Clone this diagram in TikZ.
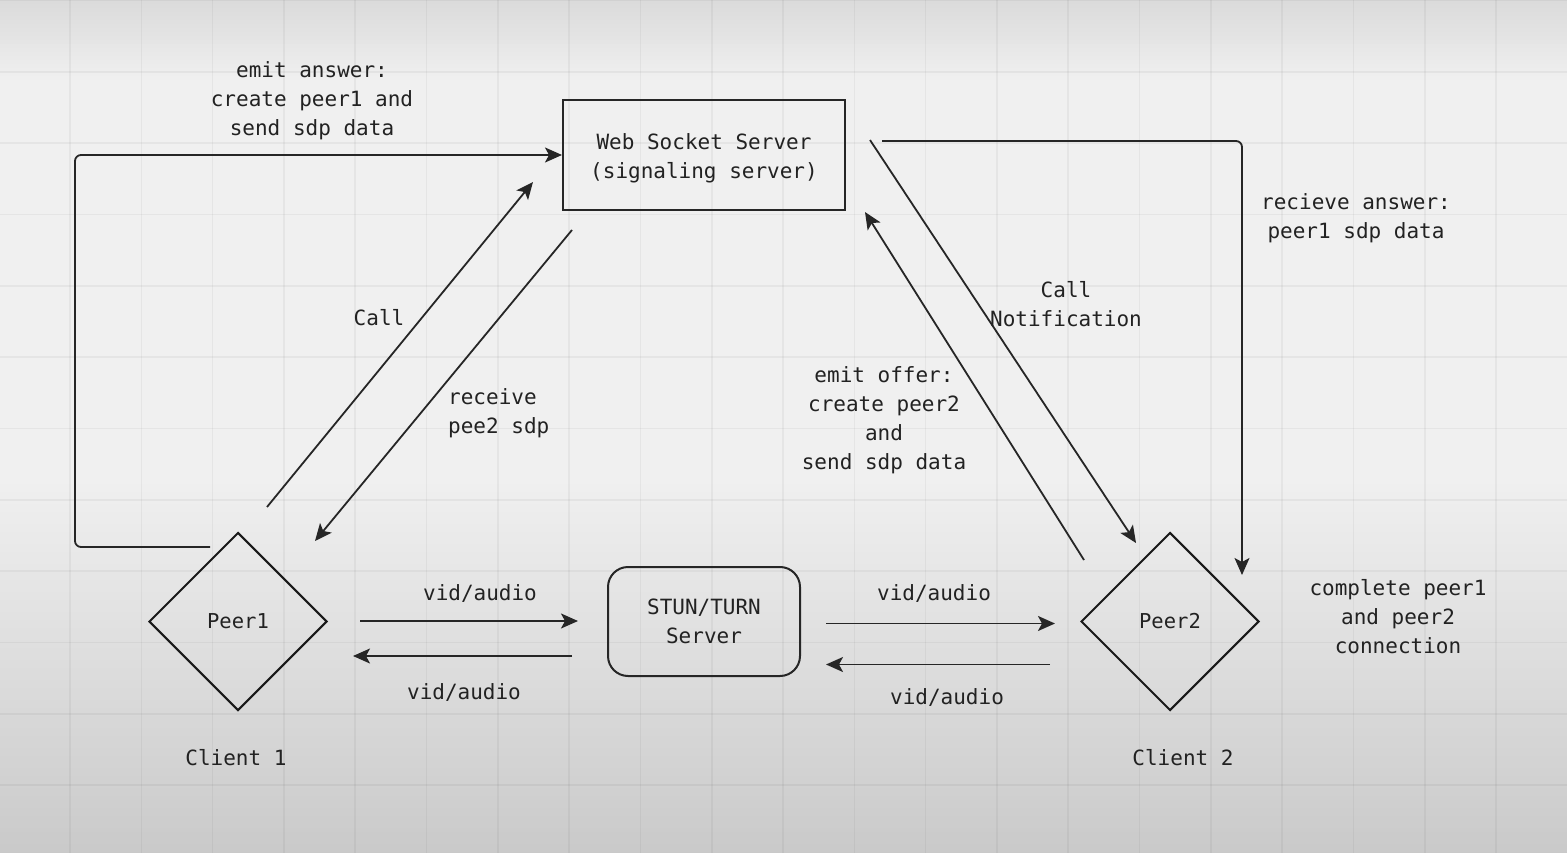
\documentclass[tikz,border=0pt]{standalone}
\usepackage{fontspec}
\setmainfont{DejaVu Sans Mono}
\setmonofont{DejaVu Sans Mono}
\usetikzlibrary{arrows.meta,shapes.geometric}
\definecolor{linec}{HTML}{262626}
\definecolor{txt}{HTML}{222222}
\tikzset{
  conn/.style={draw=linec, line width=1.8pt},
  arr/.style={conn, -{Stealth[length=17pt,width=15pt,inset=4pt]}},
  lbl/.style={font=\fontsize{21}{29}\selectfont, text=txt, align=center, inner sep=0pt},
  boxnode/.style={draw=linec, line width=2pt, font=\fontsize{21}{29}\selectfont, text=txt, align=center, inner sep=0pt},
  peer/.style={diamond, draw=black!90, line width=2pt, minimum width=178pt, minimum height=178pt, inner sep=0pt, aspect=1, font=\fontsize{20.5}{29}\selectfont, text=txt},
  gridline/.style={black, opacity=0.045, line width=1.6pt}
}
\begin{document}
\begin{tikzpicture}[x=1pt,y=-1pt]
\useasboundingbox (0,0) rectangle (1567,853);
% background gradient
\foreach \yy in {0,4,...,852}{
  \pgfmathsetmacro{\bb}{\yy<80 ? 0.86+0.08*\yy/80 : (\yy<480 ? 0.94 : 0.94-0.15*(\yy-480)/373)}
  \definecolor{stripc}{gray}{\bb}
  \fill[stripc] (0,\yy) rectangle (1567,\yy+4.6);
}
% grid
\foreach \k in {0,...,21}{
  \draw[gridline] ({-1.3+71.3*\k},0) -- ({-1.3+71.3*\k},853);
}
\foreach \k in {0,...,11}{
  \draw[gridline] (0,{0.7+71.3*\k}) -- (1567,{0.7+71.3*\k});
}

% nodes
\node[boxnode, minimum width=282pt, minimum height=110pt] (ws) at (704,155) {};
\node[lbl] (wsText) at (704,158.5) {Web Socket Server\\(signaling server)};
\node[boxnode, rounded corners=20pt, minimum width=192pt, minimum height=109pt] (stun) at (704,621.5) {STUN/TURN\\Server};
\node[peer] (p1) at (238,621.5) {Peer1};
\node[peer] (p2) at (1170,621.5) {Peer2};

% coordinates for free ends
\coordinate (loopS) at (210,547);
\coordinate (loopC) at (75,155);
\coordinate (callS) at (267,507);
\coordinate (callE) at (533,182);
\coordinate (recS) at (572,230);
\coordinate (recE) at (315,541);
\coordinate (cnS) at (870,140);
\coordinate (cnE) at (1136,543);
\coordinate (eoS) at (1084,560);
\coordinate (eoE) at (865,212);
\coordinate (raS) at (882,141);
\coordinate (raE) at (1242,575);
\coordinate (v1S) at (360,621);
\coordinate (v1E) at (578,621);
\coordinate (v2S) at (572,656);
\coordinate (v2E) at (353,656);
\coordinate (v3S) at (826,623.5);
\coordinate (v3E) at (1055,623.5);
\coordinate (v4S) at (1050,664.5);
\coordinate (v4E) at (826,664.5);

% connectors
\draw[arr, rounded corners=6pt] (loopS) -| (loopC) -- (ws.west);
\draw[arr] (callS) -- (callE);
\draw[arr] (recS) -- (recE);
\draw[arr] (cnS) -- (cnE);
\draw[arr] (eoS) -- (eoE);
\draw[arr, rounded corners=6pt] (raS) -| (raE);
\draw[arr] (v1S) -- (v1E);
\draw[arr] (v2S) -- (v2E);
\draw[arr] (v3S) -- (v3E);
\draw[arr] (v4S) -- (v4E);

% labels
\node[lbl] (tEmitAns) at (312,100.5) {emit answer:\\create peer1 and\\send sdp data};
\node[lbl] (tCall) at (379,318) {Call};
\node[lbl, align=left, anchor=west] (tRec) at (448,413) {receive\\pee2 sdp};
\node[lbl] (tCN) at (1066,304.5) {Call\\Notification};
\node[lbl] (tEO) at (884,420) {emit offer:\\create peer2\\and\\send sdp data};
\node[lbl] (tRA) at (1356,218) {recieve answer:\\peer1 sdp data};
\node[lbl] (tComp) at (1398,617) {complete peer1\\and peer2\\connection};
\node[lbl] (tV1) at (480,593) {vid/audio};
\node[lbl] (tV2) at (464,692) {vid/audio};
\node[lbl] (tV3) at (934,593) {vid/audio};
\node[lbl] (tV4) at (947,697) {vid/audio};
\node[lbl] (tC1) at (236,758) {Client 1};
\node[lbl] (tC2) at (1183,758) {Client 2};
\end{tikzpicture}
\end{document}
